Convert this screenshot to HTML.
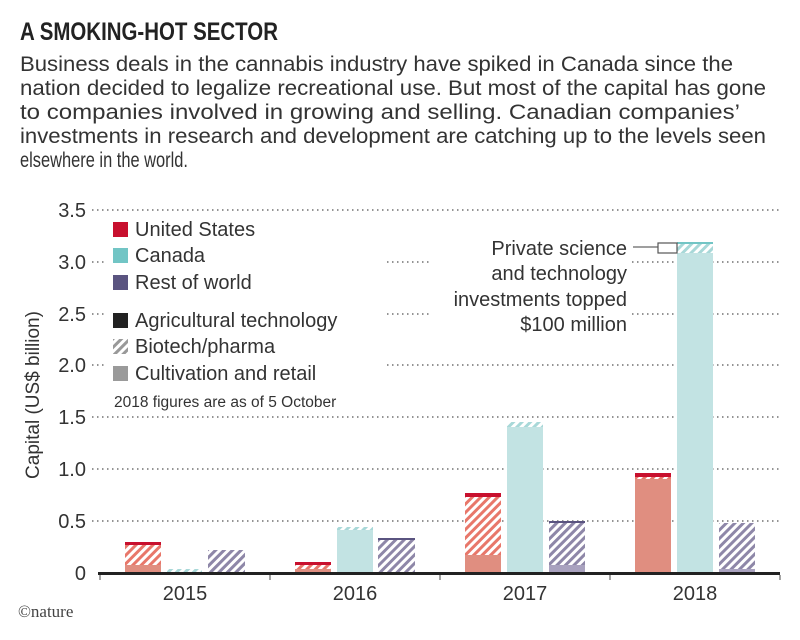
<!DOCTYPE html>
<html><head><meta charset="utf-8"><style>
body{margin:0;background:#fff;}
svg{display:block;font-family:"Liberation Sans",sans-serif;}
</style></head><body>
<svg width="800" height="640" viewBox="0 0 800 640" xmlns="http://www.w3.org/2000/svg">
<defs>
<pattern id="hr" width="6" height="6" patternUnits="userSpaceOnUse" patternTransform="rotate(45)"><rect width="6" height="6" fill="#fff"/><rect width="3" height="6" fill="#e8776a"/></pattern>
<pattern id="hc" width="6" height="6" patternUnits="userSpaceOnUse" patternTransform="rotate(45)"><rect width="6" height="6" fill="#fff"/><rect width="3" height="6" fill="#a8d8d8"/></pattern>
<pattern id="hp" width="6" height="6" patternUnits="userSpaceOnUse" patternTransform="rotate(45)"><rect width="6" height="6" fill="#fff"/><rect width="3" height="6" fill="#8e87a8"/></pattern>
<pattern id="hg" width="6" height="6" patternUnits="userSpaceOnUse" patternTransform="rotate(45)"><rect width="6" height="6" fill="#fff"/><rect width="3" height="6" fill="#999"/></pattern>
</defs>
<text x="20" y="40" font-size="25" font-weight="bold" fill="#222" textLength="258" lengthAdjust="spacingAndGlyphs">A SMOKING-HOT SECTOR</text>
<g font-size="21" fill="#333">
<text x="20" y="71" textLength="713" lengthAdjust="spacingAndGlyphs">Business deals in the cannabis industry have spiked in Canada since the</text>
<text x="20" y="95" textLength="746" lengthAdjust="spacingAndGlyphs">nation decided to legalize recreational use. But most of the capital has gone</text>
<text x="20" y="119" textLength="720" lengthAdjust="spacingAndGlyphs">to companies involved in growing and selling. Canadian companies’</text>
<text x="20" y="143" textLength="746" lengthAdjust="spacingAndGlyphs">investments in research and development are catching up to the levels seen</text>
<text x="20" y="167" textLength="168" lengthAdjust="spacingAndGlyphs">elsewhere in the world.</text>
</g>
<g stroke="#555" stroke-width="1.2" stroke-dasharray="1.5 3.5">
<line x1="92" y1="210" x2="780" y2="210"/><line x1="92" y1="262" x2="780" y2="262"/><line x1="92" y1="314" x2="780" y2="314"/><line x1="92" y1="365" x2="780" y2="365"/><line x1="92" y1="417" x2="780" y2="417"/><line x1="92" y1="469" x2="780" y2="469"/><line x1="92" y1="521" x2="780" y2="521"/>
</g>
<rect x="105" y="216" width="280" height="196" fill="#fff"/>
<rect x="432" y="236" width="198" height="100" fill="#fff"/>
<g font-size="20" fill="#333" text-anchor="end">
<text x="86" y="217">3.5</text><text x="86" y="269">3.0</text><text x="86" y="321">2.5</text><text x="86" y="372">2.0</text><text x="86" y="424">1.5</text><text x="86" y="476">1.0</text><text x="86" y="528">0.5</text><text x="86" y="580">0</text>
</g>
<text transform="translate(39,395) rotate(-90)" font-size="19" fill="#333" text-anchor="middle">Capital (US$ billion)</text>
<g font-size="20" fill="#333">
<rect x="113" y="222" width="15" height="15" fill="#c8102e"/><text x="135" y="236">United States</text>
<rect x="113" y="248" width="15" height="15" fill="#72c5c5"/><text x="135" y="262">Canada</text>
<rect x="113" y="275" width="15" height="15" fill="#5a5480"/><text x="135" y="289">Rest of world</text>
<rect x="113" y="313" width="15" height="15" fill="#222"/><text x="135" y="327">Agricultural technology</text>
<rect x="113" y="339" width="15" height="15" fill="url(#hg)"/><text x="135" y="353">Biotech/pharma</text>
<rect x="113" y="366" width="15" height="15" fill="#9a9a9a"/><text x="135" y="380">Cultivation and retail</text>
<text x="114" y="407" font-size="15.5">2018 figures are as of 5 October</text>
</g>
<rect x="125" y="542" width="36" height="3" fill="#c8102e"/><rect x="125" y="545" width="36" height="20" fill="url(#hr)"/><rect x="125" y="565" width="36" height="8" fill="#e08e80"/>
<rect x="167" y="569" width="35" height="4" fill="url(#hc)"/>
<rect x="208" y="550" width="37" height="23" fill="url(#hp)"/>
<rect x="295" y="562" width="36" height="3" fill="#c8102e"/><rect x="295" y="565" width="36" height="4" fill="url(#hr)"/><rect x="295" y="569" width="36" height="4" fill="#e08e80"/>
<rect x="337" y="527" width="36" height="3" fill="url(#hc)"/><rect x="337" y="530" width="36" height="43" fill="#c2e3e3"/>
<rect x="378" y="538" width="37" height="2" fill="#5a5480"/><rect x="378" y="540" width="37" height="33" fill="url(#hp)"/>
<rect x="465" y="493" width="36" height="4" fill="#c8102e"/><rect x="465" y="497" width="36" height="58" fill="url(#hr)"/><rect x="465" y="555" width="36" height="18" fill="#e08e80"/>
<rect x="507" y="422" width="36" height="5" fill="url(#hc)"/><rect x="507" y="427" width="36" height="146" fill="#c2e3e3"/>
<rect x="549" y="521" width="36" height="2" fill="#5a5480"/><rect x="549" y="523" width="36" height="42" fill="url(#hp)"/><rect x="549" y="565" width="36" height="8" fill="#a9a2bf"/>
<rect x="635" y="473" width="36" height="4" fill="#c8102e"/><rect x="635" y="477" width="36" height="2" fill="url(#hr)"/><rect x="635" y="479" width="36" height="94" fill="#e08e80"/>
<rect x="677" y="242" width="36" height="2" fill="#72c5c5"/><rect x="677" y="244" width="36" height="9" fill="url(#hc)"/><rect x="677" y="253" width="36" height="320" fill="#c2e3e3"/>
<rect x="719" y="523" width="36" height="46" fill="url(#hp)"/><rect x="719" y="569" width="36" height="4" fill="#a9a2bf"/>
<line x1="633" y1="247" x2="658" y2="247" stroke="#666" stroke-width="1.2"/>
<rect x="658" y="243" width="19" height="10" fill="none" stroke="#555" stroke-width="1.2"/>
<g font-size="20" fill="#333" text-anchor="end">
<text x="627" y="255">Private science</text><text x="627" y="280">and technology</text><text x="627" y="306">investments topped</text><text x="627" y="331">$100 million</text>
</g>
<rect x="98" y="572" width="682" height="3" fill="#222"/>
<g stroke="#666" stroke-width="1.2"><line x1="100" y1="575" x2="100" y2="580"/><line x1="270" y1="575" x2="270" y2="580"/><line x1="440" y1="575" x2="440" y2="580"/><line x1="610" y1="575" x2="610" y2="580"/><line x1="780" y1="575" x2="780" y2="580"/></g>
<g font-size="20" fill="#333" text-anchor="middle">
<text x="185" y="600">2015</text><text x="355" y="600">2016</text><text x="525" y="600">2017</text><text x="695" y="600">2018</text>
</g>
<text x="18" y="617" font-size="17" font-family="Liberation Serif,serif" fill="#444">©nature</text>
</svg>
</body></html>
